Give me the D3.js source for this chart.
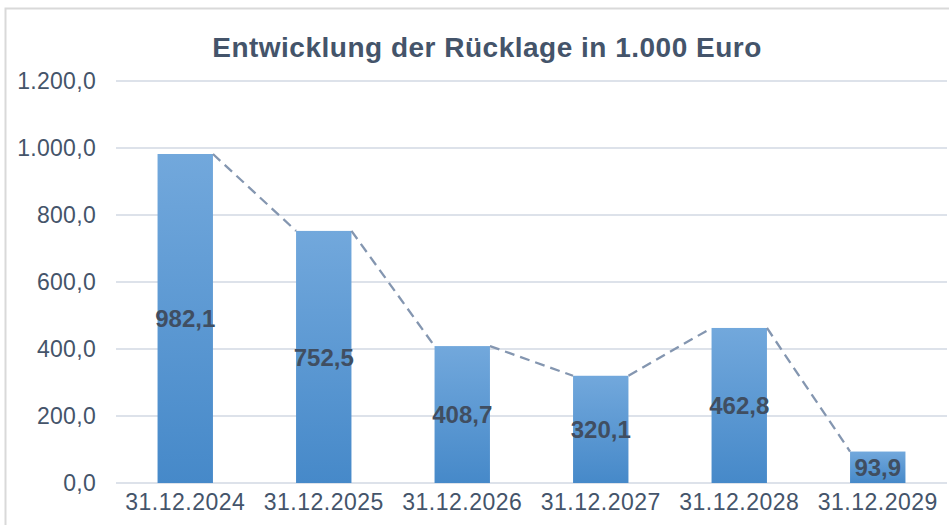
<!DOCTYPE html>
<html>
<head>
<meta charset="utf-8">
<script src="https://cdn.jsdelivr.net/npm/d3@7"></script>
<style>
  body { margin: 0; background: #fff; }
  svg { display: block; font-family: "Liberation Sans", Arial, sans-serif; }
</style>
</head>
<body>
<div id="chart"></div>
<script>
// data
const categories = ['31.12.2024', '31.12.2025', '31.12.2026', '31.12.2027', '31.12.2028', '31.12.2029'];
const values = [982.1, 752.5, 408.7, 320.1, 462.8, 93.9];
const yTicks = [0, 200, 400, 600, 800, 1000, 1200];
const title = 'Entwicklung der Rücklage in 1.000 Euro';

const width = 949, height = 525;
const textColor = '#44546a';

// german number format: 1.200,0
const deLocale = d3.formatLocale({decimal: ',', thousands: '.', grouping: [3], currency: ['', ' €']});
const fmt = deLocale.format(',.1f');

const svg = d3.select('#chart')
    .append('svg')
        .attr('width', width)
        .attr('height', height);

// chart frame
svg.append('path')
    .attr('d', `M5.5,${height} V8.5 H${width}`)
    .attr('fill', 'none')
    .attr('stroke', '#d9d9d9')
    .attr('stroke-width', 2);

// gradient for bars
const grad = svg.append('defs')
    .append('linearGradient')
        .attr('id', 'barGrad')
        .attr('x1', 0).attr('y1', 0).attr('x2', 0).attr('y2', 1);
grad.append('stop').attr('offset', '0%').attr('stop-color', '#72a8dc');
grad.append('stop').attr('offset', '100%').attr('stop-color', '#4689c9');

// scales
const x = d3.scaleBand()
    .domain(categories)
    .range([116, 947])
    .paddingInner(0.6)
    .paddingOuter(0.3);

const y = d3.scaleLinear()
    .domain([0, 1200])
    .range([483, 81]);

// gridlines
svg.append('g')
    .selectAll('line')
    .data(yTicks)
    .join('line')
        .attr('x1', 116)
        .attr('x2', 947)
        .attr('y1', d => y(d))
        .attr('y2', d => y(d))
        .attr('stroke', '#dde2ea')
        .attr('stroke-width', 2);

// y-axis labels
const yAxis = svg.append('g')
    .attr('transform', 'translate(96,0)')
    .call(d3.axisLeft(y).tickValues(yTicks).tickFormat(fmt).tickSize(0).tickPadding(0));
yAxis.select('.domain').remove();
yAxis.selectAll('text')
    .attr('fill', textColor)
    .style('font-size', '23px')
    .style('letter-spacing', '0.3px')
    .style('font-family', '"Liberation Sans", Arial, sans-serif');

// x-axis labels
const xAxis = svg.append('g')
    .attr('transform', 'translate(0,483)')
    .call(d3.axisBottom(x).tickSize(0).tickPadding(11));
xAxis.select('.domain').remove();
xAxis.selectAll('text')
    .attr('fill', textColor)
    .attr('dy', '0.71em')
    .style('font-size', '23px')
    .style('letter-spacing', '0.5px')
    .style('font-family', '"Liberation Sans", Arial, sans-serif');

// bars
svg.append('g')
    .selectAll('rect')
    .data(values)
    .join('rect')
        .attr('x', (d, i) => x(categories[i]))
        .attr('y', d => y(d))
        .attr('width', x.bandwidth())
        .attr('height', d => y(0) - y(d))
        .attr('fill', 'url(#barGrad)');

// series lines (dashed), right top corner -> next left top corner
const seg = values.slice(0, -1).map((d, i) => [
    [x(categories[i]) + x.bandwidth(), y(d)],
    [x(categories[i + 1]), y(values[i + 1])]
]);
svg.append('g')
    .selectAll('line')
    .data(seg)
    .join('line')
        .attr('x1', d => d[0][0])
        .attr('y1', d => d[0][1])
        .attr('x2', d => d[1][0])
        .attr('y2', d => d[1][1])
        .attr('stroke', '#8496b0')
        .attr('stroke-width', 2.3)
        .attr('stroke-dasharray', '10,6');

// data labels, centered in bar
svg.append('g')
    .selectAll('text')
    .data(values)
    .join('text')
        .attr('x', (d, i) => x(categories[i]) + x.bandwidth() / 2)
        .attr('y', d => (y(d) + y(0)) / 2)
        .attr('dy', '0.36em')
        .attr('text-anchor', 'middle')
        .attr('fill', '#404e61')
        .style('font-size', '24px')
        .style('font-weight', 'bold')
        .text(d => fmt(d));

// title
svg.append('text')
    .attr('x', 487)
    .attr('y', 57)
    .attr('text-anchor', 'middle')
    .attr('fill', textColor)
    .style('font-size', '28px')
    .style('font-weight', 'bold')
    .style('letter-spacing', '0.5px')
    .text(title);
</script>
</body>
</html>
